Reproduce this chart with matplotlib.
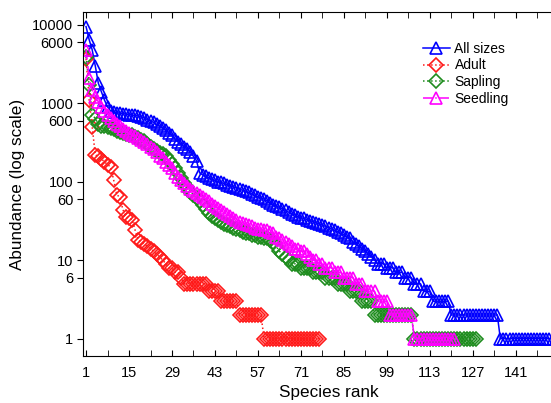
import matplotlib
matplotlib.use("Agg")
import matplotlib.pyplot as plt
import numpy as np

plt.rcParams['font.family'] = ['Liberation Sans', 'DejaVu Sans']

all_sizes = ([9500, 6500, 4800, 3000, 1800, 1400, 1100, 900, 800,
              770, 760, 750, 740, 730, 720, 710, 700, 690, 670, 650,
              620, 600, 570, 540, 510, 490, 460, 420, 390, 350, 320, 300,
              280, 260, 240, 210, 185, 130, 122, 118, 112, 108, 104, 100,
              98, 95, 92, 89, 86, 83, 80, 78, 76, 73, 70, 67, 64, 62, 60,
              57, 54, 51, 49, 47, 45, 43, 41, 39, 38, 36, 35, 34, 33, 32,
              31, 30, 29, 28, 27, 26, 25, 24, 23, 22, 21, 20, 19, 17, 16,
              15, 14, 13, 12, 11, 10, 9, 9, 9, 8, 8, 8, 7, 7, 7, 6, 6, 6,
              5, 5, 5, 4, 4, 4]
             + [3] * 6 + [2] * 16 + [1] * 20)

adult = ([3700, 1100, 500, 220, 210, 195, 180, 165, 155, 105, 68, 64, 44,
          36, 34, 33, 24, 18, 17, 16, 15, 14, 13, 12, 11, 10, 9, 8, 8, 7,
          7, 6] + [5] * 8 + [4] * 4 + [3] * 6 + [2] * 8 + [1] * 19)

sapling = ([3900, 1700, 720, 640, 540, 520, 510, 500, 490, 470, 450, 430,
            420, 410, 400, 390, 375, 360, 345, 330, 300, 280, 265, 250,
            235, 225, 210, 190, 170, 150, 130, 110, 95, 85, 75, 68, 62,
            56, 50, 45, 40, 37, 35, 33, 31, 29, 28, 27, 26, 25, 24, 23,
            22, 22, 21, 21, 20, 20, 19, 19, 18, 17, 15, 13, 12, 11, 10,
            9, 9, 9, 8, 8, 8, 8, 7, 7, 7, 7, 6, 6, 6, 6, 5, 5, 5, 5, 4,
            4, 4, 4, 3, 3, 3, 3] + [2] * 13 + [1] * 21)

seedling = ([4800, 2100, 1500, 1200, 1050, 900, 800, 720, 650, 600, 550,
             510, 470, 440, 420, 400, 380, 360, 340, 320, 300, 280, 260,
             240, 215, 200, 180, 165, 150, 130, 115, 105, 95, 88, 82, 76,
             72, 68, 64, 60, 56, 52, 49, 46, 43, 41, 39, 37, 35, 33, 31,
             30, 29, 28, 27, 26, 25, 25, 24, 24, 23, 22, 20, 19, 18, 17,
             16, 15, 14, 14, 13, 13, 12, 11, 10, 10, 9, 9, 8, 8, 8, 7, 7,
             7, 6, 6, 6, 6, 5, 5, 5, 4, 4, 4, 4, 3, 3, 3, 3]
            + [2] * 8 + [1] * 14)

x_ticks = [1, 15, 29, 43, 57, 71, 85, 99, 113, 127, 141]
y_ticks = [1, 6, 10, 60, 100, 600, 1000, 6000, 10000]

fig = plt.figure(figsize=(5.51, 4.03), dpi=100)
ax = fig.add_axes([83 / 551, 1 - 356 / 403, 491 / 551, (356 - 12) / 403])

series = [
    ("All sizes", all_sizes, '#0000ff', '-', '^', 8.5),
    ("Adult", adult, '#ff1a1a', ':', 'D', 7.2),
    ("Sapling", sapling, '#1e8c1e', ':', 'D', 7.2),
    ("Seedling", seedling, '#ff00ff', '-.', '^', 8.5),
]
for name, vals, col, ls, mk, ms in series:
    r = np.arange(1, len(vals) + 1)
    ax.plot(r, vals, color=col, ls=ls, lw=1.1, marker=mk, ms=ms,
            mfc='none', mec=col, mew=1.2, label=name, clip_on=True)

ax.set_yscale('log')
ax.set_xlim(0, 160)
ax.set_ylim(0.6, 14600)
ax.set_yticks(y_ticks)
ax.set_yticklabels([str(v) for v in y_ticks])
ax.yaxis.set_minor_locator(matplotlib.ticker.NullLocator())
ax.set_xticks(x_ticks)
ax.set_xticks(np.arange(8, 160, 14), minor=True)
ax.tick_params(axis='x', which='both', direction='in', top=True, length=4,
               labelsize=10.5, pad=7)
ax.tick_params(axis='y', direction='out', length=4, labelsize=10.5, pad=3)
ax.spines['right'].set_visible(False)
ax.set_xlabel("Species rank", fontsize=12.3, labelpad=4)
ax.set_ylabel("Abundance (log scale)", fontsize=12.3, labelpad=5)

leg = ax.legend(loc='upper left', bbox_to_anchor=(334 / 491, 0.93),
                frameon=False, fontsize=10, handlelength=2.0,
                labelspacing=0.2, handletextpad=0.3, borderaxespad=0)

fig.savefig("out.png", dpi=100)
